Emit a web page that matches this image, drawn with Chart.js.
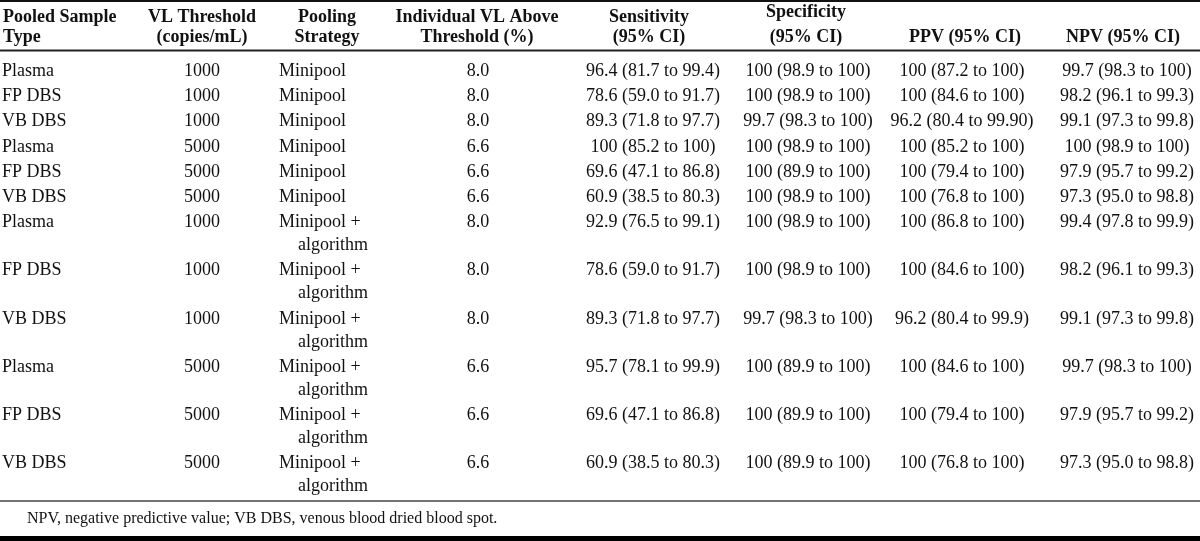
<!DOCTYPE html>
<html>
<head>
<meta charset="utf-8">
<script src="https://cdn.jsdelivr.net/npm/chart.js"></script>
<style>
    html, body { margin: 0; padding: 0; background: #fff; }
    #wrap { width: 1200px; height: 541px; position: relative; }
</style>
</head>
<body>
<div id="wrap"><canvas id="table"></canvas></div>
<script>
// table content
const headers = [
    ['Pooled Sample', 'Type'],
    ['VL Threshold', '(copies/mL)'],
    ['Pooling', 'Strategy'],
    ['Individual VL Above', 'Threshold (%)'],
    ['Sensitivity', '(95% CI)'],
    ['Specificity', '(95% CI)'],
    ['', 'PPV (95% CI)'],
    ['', 'NPV (95% CI)'],
];

const sampleTypes = ['Plasma', 'FP DBS', 'VB DBS', 'Plasma', 'FP DBS', 'VB DBS',
    'Plasma', 'FP DBS', 'VB DBS', 'Plasma', 'FP DBS', 'VB DBS'];
const thresholds = ['1000', '1000', '1000', '5000', '5000', '5000',
    '1000', '1000', '1000', '5000', '5000', '5000'];
const strategies = [
    ['Minipool'], ['Minipool'], ['Minipool'], ['Minipool'], ['Minipool'], ['Minipool'],
    ['Minipool +', 'algorithm'], ['Minipool +', 'algorithm'], ['Minipool +', 'algorithm'],
    ['Minipool +', 'algorithm'], ['Minipool +', 'algorithm'], ['Minipool +', 'algorithm'],
];
const aboveThreshold = ['8.0', '8.0', '8.0', '6.6', '6.6', '6.6',
    '8.0', '8.0', '8.0', '6.6', '6.6', '6.6'];
const sensitivity = [
    '96.4 (81.7 to 99.4)', '78.6 (59.0 to 91.7)', '89.3 (71.8 to 97.7)',
    '100 (85.2 to 100)', '69.6 (47.1 to 86.8)', '60.9 (38.5 to 80.3)',
    '92.9 (76.5 to 99.1)', '78.6 (59.0 to 91.7)', '89.3 (71.8 to 97.7)',
    '95.7 (78.1 to 99.9)', '69.6 (47.1 to 86.8)', '60.9 (38.5 to 80.3)',
];
const specificity = [
    '100 (98.9 to 100)', '100 (98.9 to 100)', '99.7 (98.3 to 100)',
    '100 (98.9 to 100)', '100 (89.9 to 100)', '100 (98.9 to 100)',
    '100 (98.9 to 100)', '100 (98.9 to 100)', '99.7 (98.3 to 100)',
    '100 (89.9 to 100)', '100 (89.9 to 100)', '100 (89.9 to 100)',
];
const ppv = [
    '100 (87.2 to 100)', '100 (84.6 to 100)', '96.2 (80.4 to 99.90)',
    '100 (85.2 to 100)', '100 (79.4 to 100)', '100 (76.8 to 100)',
    '100 (86.8 to 100)', '100 (84.6 to 100)', '96.2 (80.4 to 99.9)',
    '100 (84.6 to 100)', '100 (79.4 to 100)', '100 (76.8 to 100)',
];
const npv = [
    '99.7 (98.3 to 100)', '98.2 (96.1 to 99.3)', '99.1 (97.3 to 99.8)',
    '100 (98.9 to 100)', '97.9 (95.7 to 99.2)', '97.3 (95.0 to 98.8)',
    '99.4 (97.8 to 99.9)', '98.2 (96.1 to 99.3)', '99.1 (97.3 to 99.8)',
    '99.7 (98.3 to 100)', '97.9 (95.7 to 99.2)', '97.3 (95.0 to 98.8)',
];
const footnote = 'NPV, negative predictive value; VB DBS, venous blood dried blood spot.';

// layout (page pixels, read through the chart scales)
const headCols = [
    { x: 3, align: 'left' }, { x: 202, align: 'center' }, { x: 327, align: 'center' },
    { x: 477, align: 'center' }, { x: 649, align: 'center' }, { x: 806, align: 'center' },
    { x: 965, align: 'center' }, { x: 1123, align: 'center' },
];
const bodyCols = [
    { x: 2, align: 'left' }, { x: 202, align: 'center' }, { x: 279, align: 'left', indent: 19 },
    { x: 478, align: 'center' }, { x: 653, align: 'center' }, { x: 808, align: 'center' },
    { x: 962, align: 'center' }, { x: 1127, align: 'center' },
];
const headBaselines = [22, 42];
const firstBaseline = 76;
const lineStep = 23;
const rowGap = 2.2;
const rules = [
    { y: 1, w: 2, color: '#111' },
    { y: 50.5, w: 2, color: '#222' },
    { y: 501, w: 1.6, color: '#444' },
    { y: 538.5, w: 5, color: '#000' },
];

const FONT = '"Liberation Serif", "Times New Roman", serif';

const tablePlugin = {
    id: 'tableText',
    afterDraw(chart) {
        const { ctx, scales: { x, y } } = chart;
        ctx.save();
        ctx.fillStyle = '#111';
        ctx.textBaseline = 'alphabetic';

        rules.forEach((r) => {
            ctx.beginPath();
            ctx.lineWidth = r.w;
            ctx.strokeStyle = r.color;
            ctx.moveTo(x.getPixelForValue(0), y.getPixelForValue(r.y));
            ctx.lineTo(x.getPixelForValue(1200), y.getPixelForValue(r.y));
            ctx.stroke();
        });

        ctx.font = `bold 18px ${FONT}`;
        headers.forEach((lines, c) => {
            ctx.textAlign = headCols[c].align;
            lines.forEach((t, i) => {
                if (!t) return;
                let by = headBaselines[i];
                if (c === 5 && i === 0) by -= 5;
                ctx.fillText(t, x.getPixelForValue(headCols[c].x), y.getPixelForValue(by));
            });
        });

        ctx.font = `18px ${FONT}`;
        let base = firstBaseline;
        sampleTypes.forEach((type, r) => {
            const cells = [[type], [thresholds[r]], strategies[r], [aboveThreshold[r]],
                [sensitivity[r]], [specificity[r]], [ppv[r]], [npv[r]]];
            cells.forEach((lines, c) => {
                const col = bodyCols[c];
                ctx.textAlign = col.align;
                lines.forEach((t, i) => {
                    const px = col.x + (i > 0 && col.indent ? col.indent : 0);
                    ctx.fillText(t, x.getPixelForValue(px), y.getPixelForValue(base + i * lineStep));
                });
            });
            base += strategies[r].length * lineStep + rowGap;
        });

        ctx.font = `16px ${FONT}`;
        ctx.textAlign = 'left';
        ctx.fillText(footnote, x.getPixelForValue(27), y.getPixelForValue(523));
        ctx.restore();
    },
};

new Chart(document.getElementById('table'), {
    type: 'scatter',
    data: { datasets: [{ data: [] }] },
    options: {
        responsive: true,
        maintainAspectRatio: false,
        animation: false,
        layout: { padding: 0 },
        plugins: { legend: { display: false }, tooltip: { enabled: false } },
        scales: {
            x: { type: 'linear', min: 0, max: 1200, display: false },
            y: { type: 'linear', min: 0, max: 541, reverse: true, display: false },
        },
    },
    plugins: [tablePlugin],
});
</script>
</body>
</html>
